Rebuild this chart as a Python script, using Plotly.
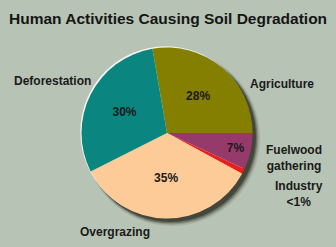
import plotly.graph_objects as go

# Data
categories = ["Agriculture", "Fuelwood gathering", "Industry", "Overgrazing", "Deforestation"]
values = [28, 7, 1, 35, 30]
slice_text = [f"<b>{v}%</b>" if v >= 2 else "" for v in values]
colors = ["#857f00", "#963a6c", "#e8201c", "#fdcb98", "#0a8580"]

W, H = 336, 247
BG = "#b7c3b4"

# pie geometry (pixels)
cx, cy, r = 167, 133, 85.5

def px_x(x):
    return x / W

def px_y(y):
    return 1 - y / H

fig = go.Figure()
fig.add_trace(go.Pie(
    labels=categories,
    values=values,
    text=slice_text,
    textinfo="text",
    textposition="inside",
    insidetextorientation="horizontal",
    textfont=dict(family="Liberation Sans, Arial", size=12, color="#1a1a1a"),
    marker=dict(colors=colors, line=dict(width=0)),
    sort=False,
    direction="clockwise",
    rotation=-9.8,
    showlegend=False,
    hoverinfo="label+value",
    domain=dict(x=[px_x(cx - r), px_x(cx + r)], y=[px_y(cy + r), px_y(cy - r)]),
))

shapes = []
# soft drop shadow
for off, grow, op in [(5, 2.5, 0.10), (4.5, 1.5, 0.18), (4, 0.8, 0.28), (3.5, 0, 0.45)]:
    shapes.append(dict(type="circle", xref="paper", yref="paper", layer="below",
                       x0=px_x(cx - r - grow + off), x1=px_x(cx + r + grow + off),
                       y0=px_y(cy + r + grow + off), y1=px_y(cy - r - grow + off),
                       fillcolor=f"rgba(20,20,10,{op})", line=dict(width=0)))
# light rim on the upper-left
shapes.append(dict(type="circle", xref="paper", yref="paper", layer="below",
                   x0=px_x(cx - r - 1.2), x1=px_x(cx + r - 1.2),
                   y0=px_y(cy + r - 1.2), y1=px_y(cy - r - 1.2),
                   fillcolor="#f4f6ee", line=dict(width=0)))

lab_font = dict(family="Liberation Sans, Arial", size=12, color="#1a1a1a")
annotations = [
    dict(text="<b>Deforestation</b>", x=px_x(12), y=px_y(81), xanchor="left", yanchor="middle"),
    dict(text="<b>Agriculture</b>", x=px_x(282), y=px_y(84), xanchor="center", yanchor="middle"),
    dict(text="<b>Fuelwood<br>gathering</b>", x=px_x(294), y=px_y(157.5), xanchor="center", yanchor="middle"),
    dict(text="<b>Industry<br>&lt;1%</b>", x=px_x(299), y=px_y(194), xanchor="center", yanchor="middle"),
    dict(text="<b>Overgrazing</b>", x=px_x(115), y=px_y(232), xanchor="center", yanchor="middle"),
]
for a in annotations:
    a.update(xref="paper", yref="paper", showarrow=False, font=lab_font)

annotations.append(dict(text="<b>Human Activities Causing Soil Degradation</b>",
                        x=px_x(7), y=px_y(18), xref="paper", yref="paper",
                        xanchor="left", yanchor="middle", showarrow=False,
                        font=dict(family="Liberation Sans, Arial", size=15.5, color="#151515")))

fig.update_layout(
    width=W, height=H,
    margin=dict(l=0, r=0, t=0, b=0),
    paper_bgcolor=BG, plot_bgcolor=BG,
    shapes=shapes, annotations=annotations,
)

fig.write_html("out.html")
